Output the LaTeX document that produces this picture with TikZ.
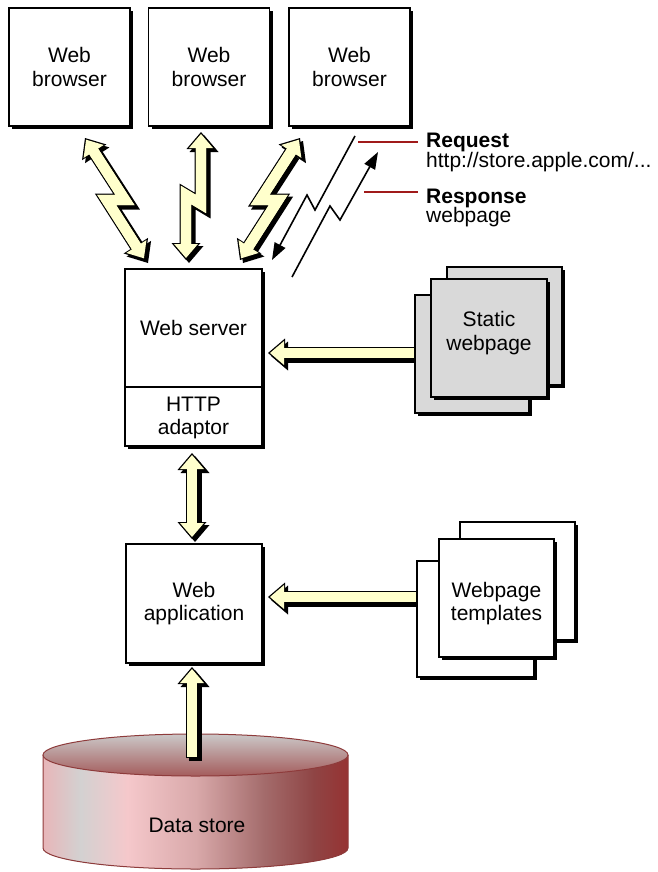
\documentclass[tikz,border=0pt]{standalone}
\usepackage{fontspec}
\setmainfont{Liberation Sans}
\usetikzlibrary{arrows.meta,shadows}
\definecolor{arrowfill}{HTML}{FFFFCC}
\definecolor{pagegray}{HTML}{D9D9D9}
\definecolor{labelred}{HTML}{A01A1A}
\definecolor{cylline}{HTML}{8E3B3B}
\definecolor{cA}{HTML}{E8B5B8}
\definecolor{cB}{HTML}{D3D1D1}
\definecolor{cC}{HTML}{F5C8CB}
\definecolor{cD}{HTML}{D8A8A9}
\definecolor{cE}{HTML}{A46C6C}
\definecolor{cF}{HTML}{8F4545}
\definecolor{cG}{HTML}{963232}
\definecolor{topA}{HTML}{CBC8C8}
\definecolor{topB}{HTML}{A45C5C}
\tikzset{
  boxshadow/.style={drop shadow={shadow xshift=3pt,shadow yshift=-3pt,fill=black,opacity=1}},
  box/.style={draw=black,line width=1.3pt,fill=white,inner sep=0pt,align=center,boxshadow},
  browser/.style={box,minimum width=121pt,minimum height=118pt},
  page/.style={box,minimum width=115pt,minimum height=118pt},
  txt/.style={inner sep=0pt,align=center},
  fatO/.tip={Triangle[length=17pt 0 0,width=29pt 0 0,line width=0pt]},
  fatI/.tip={Triangle[length=14pt 0 0,width=23.9pt 0 0,line width=0pt]},
  fatbase/.style={line join=miter,miter limit=20,line cap=butt},
  fatshadow/.style={fatbase,line width=13pt,black,transform canvas={xshift=3pt,yshift=-3pt}},
  fatout/.style={fatbase,line width=13pt,black},
  fatin/.style={fatbase,line width=10.4pt,arrowfill},
  boltline/.style={line width=1.6pt,black,line join=miter},
  redline/.style={line width=1.5pt,labelred},
  lbl/.style={anchor=base west,inner sep=0pt},
  lblb/.style={lbl,font=\fontsize{21}{23.5}\selectfont\bfseries},
}
\newcommand\fatdouble[1]{%
  \draw[fatshadow,{fatO}-{fatO}] #1;
  \draw[fatout,{fatO}-{fatO}] #1;
  \draw[fatin,{fatI}-{fatI},shorten >=2pt,shorten <=2pt] #1;
  \draw[fatin,shorten >=11pt,shorten <=11pt] #1;
}
\newcommand\fatsingle[1]{%
  \draw[fatshadow,-{fatO}] #1;
  \draw[fatout,-{fatO}] #1;
  \draw[fatin,-{fatI},shorten >=2pt,shorten <=1.3pt] #1;
  \draw[fatin,shorten >=11pt,shorten <=1.3pt] #1;
}
\begin{document}
\begin{tikzpicture}[x=1pt,y=-1pt,font=\fontsize{21}{23.5}\selectfont]
\useasboundingbox (0,0) rectangle (657,872);

% ---------- data store cylinder ----------
\begin{scope}
\clip (43,755) -- (43,848) arc[start angle=180,end angle=0,x radius=152.5,y radius=21] -- (348,755) -- cycle;
\fill[left color=cA,right color=cB] (42,740) rectangle (80.5,875);
\fill[left color=cB,right color=cC] (80,740) rectangle (127.5,875);
\fill[left color=cC,right color=cD] (127,740) rectangle (197.5,875);
\fill[left color=cD,right color=cE] (197,740) rectangle (263.5,875);
\fill[left color=cE,right color=cF] (263,740) rectangle (313.5,875);
\fill[left color=cF,right color=cG] (313,740) rectangle (349,875);
\end{scope}
\draw[cylline,line width=1pt] (43,755) -- (43,848) arc[start angle=180,end angle=0,x radius=152.5,y radius=21] -- (348,755);
\draw[cylline,line width=1pt,top color=topA,bottom color=topB] (195.5,755) ellipse [x radius=152.5,y radius=21];
\node[txt] (ds) at (197,825) {Data store};

% ---------- coordinates for connectors ----------
\coordinate (dsTop) at (192,758);
\coordinate (appBot) at (192,667);
\coordinate (adpBot) at (192,453);
\coordinate (appTop) at (192,539);
\coordinate (stFrom) at (415,353);
\coordinate (srvIn) at (268,353);
\coordinate (tpFrom) at (418,597);
\coordinate (appIn) at (268,597);
\coordinate (L1) at (85,138);
\coordinate (L2) at (125,200);
\coordinate (L3) at (106.7,200);
\coordinate (L4) at (145,260);
\coordinate (M1) at (201,132);
\coordinate (M2) at (201,204);
\coordinate (M3) at (186,195);
\coordinate (M4) at (186,260);
\coordinate (R1) at (300,138);
\coordinate (R2) at (260,200);
\coordinate (R3) at (278.3,200);
\coordinate (R4) at (240,260);

% ---------- fat yellow arrows ----------
\fatsingle{(dsTop) -- (appBot)}
\fatdouble{(adpBot) -- (appTop)}
\fatsingle{(stFrom) -- (srvIn)}
\fatsingle{(tpFrom) -- (appIn)}
\fatdouble{(L1) -- (L2) -- (L3) -- (L4)}
\fatdouble{(M1) -- (M2) -- (M3) -- (M4)}
\fatdouble{(R1) -- (R2) -- (R3) -- (R4)}

% ---------- browsers ----------
\node[browser] (b1) at (69.5,67) {Web\\browser};
\node[browser] (b2) at (209,67) {Web\\browser};
\node[browser] (b3) at (349.5,67) {Web\\browser};

% ---------- web server ----------
\node[box,minimum width=137pt,minimum height=177pt] (srv) at (193.5,357.5) {};
\coordinate (divy) at (0,387);
\draw[line width=1.3pt] (srv.west |- divy) -- (srv.east |- divy);
\node[txt] (srvt) at (193.5,328) {Web server};
\node[txt] (adp) at (193.5,418) {HTTP\\adaptor};

% ---------- web application ----------
\node[box,minimum width=136pt,minimum height=119pt] (app) at (194,603.5) {Web\\application};

% ---------- static webpage stack ----------
\node[page,fill=pagegray] (sp1) at (504.5,326) {};
\node[page,fill=pagegray,minimum width=114pt] (sp3) at (472,354) {};
\node[page,fill=pagegray,minimum width=116pt] (sp2) at (489,338) {};
\node[txt] (spt) at (489,333) {Static\\webpage};

% ---------- webpage templates stack ----------
\node[page] (tp1) at (517.5,581) {};
\node[page,minimum width=117pt,minimum height=116pt] (tp3) at (475.5,619) {};
\node[page] (tp2) at (496.5,598) {};
\node[txt] (tpt) at (496.5,603.5) {Webpage\\templates};

% ---------- request / response ----------
\coordinate (q1) at (355,136);
\coordinate (q2) at (315,210);
\coordinate (q3) at (307,195);
\coordinate (q4) at (272,260);
\coordinate (r1) at (292,277);
\coordinate (r2) at (330,206);
\coordinate (r3) at (340,220);
\coordinate (r4) at (378,152);
\draw[boltline,-{Triangle[length=17pt,width=12pt]}] (q1) -- (q2) -- (q3) -- (q4);
\draw[boltline,-{Triangle[length=17pt,width=12pt]}] (r1) -- (r2) -- (r3) -- (r4);

\coordinate (reqA) at (358,142);
\coordinate (reqB) at (418,142);
\coordinate (resA) at (364,192);
\coordinate (resB) at (418,192);
\draw[redline] (reqA) -- (reqB);
\draw[redline] (resA) -- (resB);
\node[lblb] (req) at (426,147) {Request};
\node[lbl] (url) at (426,167) {http://store.apple.com/...};
\node[lblb] (res) at (426,203) {Response};
\node[lbl] (wp) at (426,222) {webpage};
\end{tikzpicture}
\end{document}
